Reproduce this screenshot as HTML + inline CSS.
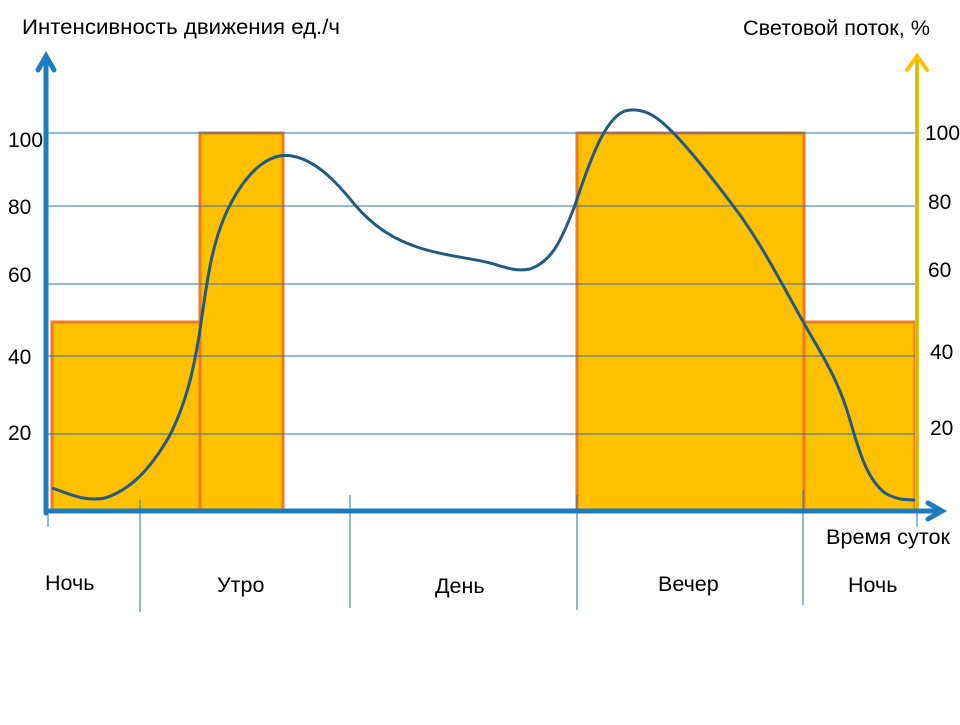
<!DOCTYPE html>
<html><head><meta charset="utf-8"><style>
body{margin:0;background:#fff;}
svg text{font-family:"Liberation Sans","DejaVu Sans",sans-serif;fill:#000;}
</style></head><body>
<svg width="960" height="720" viewBox="0 0 960 720" xmlns="http://www.w3.org/2000/svg">
<rect width="960" height="720" fill="#fff"/>
<g fill="#ffc000" stroke="#f47820" stroke-width="3">
<rect x="52" y="322" width="148" height="189"/>
<rect x="200" y="133" width="83" height="378"/>
<rect x="577" y="133" width="227" height="378"/>
<rect x="804" y="322" width="111" height="189"/>
</g>
<g stroke="#2674ad" stroke-width="1">
<line x1="48" y1="133" x2="917" y2="133"/>
<line x1="48" y1="206" x2="917" y2="206"/>
<line x1="48" y1="284" x2="917" y2="284"/>
<line x1="48" y1="356" x2="917" y2="356"/>
<line x1="48" y1="434" x2="917" y2="434"/>
<line x1="48" y1="511" x2="48" y2="527"/>
<line x1="140" y1="500" x2="140" y2="612"/>
<line x1="350" y1="495" x2="350" y2="608"/>
<line x1="577" y1="495" x2="577" y2="610"/>
<line x1="803" y1="490" x2="803" y2="605"/>
<line x1="917" y1="511" x2="917" y2="527"/>
</g>
<path d="M52,488 C70,494 85,502 105,498 C130,490 150,470 170,435 C185,405 193,375 200,330 C207,280 212,240 230,205 C248,170 270,152 292,156 C315,160 335,180 355,205 C375,228 395,240 420,248 C445,256 470,258 490,263 C505,267 515,272 530,269 C550,262 560,245 575,205 C590,160 605,118 625,111 C645,106 660,118 680,140 C700,162 720,188 740,215 C765,250 785,290 805,325 C820,352 838,378 850,420 C860,455 868,480 885,493 C897,500 905,500 918,500" fill="none" stroke="#215a82" stroke-width="3"/>
<g stroke="#ffc000" stroke-width="4" fill="none" stroke-linecap="round">
<line x1="917" y1="511" x2="917" y2="58"/>
<polyline points="907,70 917,56 927,70"/>
</g>
<line x1="917" y1="511" x2="917" y2="60" stroke="#9aaa3a" stroke-width="1"/>
<g stroke="#1f7bc0" stroke-width="5" fill="none" stroke-linecap="round">
<line x1="46" y1="513" x2="46" y2="58"/>
<polyline points="38,70 46,56 54,70"/>
<line x1="46" y1="511" x2="938" y2="511"/>
<polyline points="928,503 942,511 928,519"/>
</g>
<g font-size="21.5">
<text x="22" y="34" textLength="318" lengthAdjust="spacingAndGlyphs">Интенсивность движения ед./ч</text>
<text x="743" y="35" textLength="187" lengthAdjust="spacingAndGlyphs">Световой поток, %</text>
<text x="826" y="544" textLength="124" lengthAdjust="spacingAndGlyphs">Время суток</text>
<text x="45" y="590">Ночь</text>
<text x="217" y="592">Утро</text>
<text x="435" y="593">День</text>
<text x="658" y="591">Вечер</text>
<text x="848" y="592">Ночь</text>
</g>
<g font-size="21">
<text x="8" y="147">100</text><text x="8" y="214">80</text><text x="8" y="282">60</text><text x="8" y="364">40</text><text x="8" y="440">20</text>
<text x="925" y="140">100</text><text x="928" y="209">80</text><text x="928" y="277">60</text><text x="930" y="359">40</text><text x="930" y="435">20</text>
</g>
</svg>
</body></html>
